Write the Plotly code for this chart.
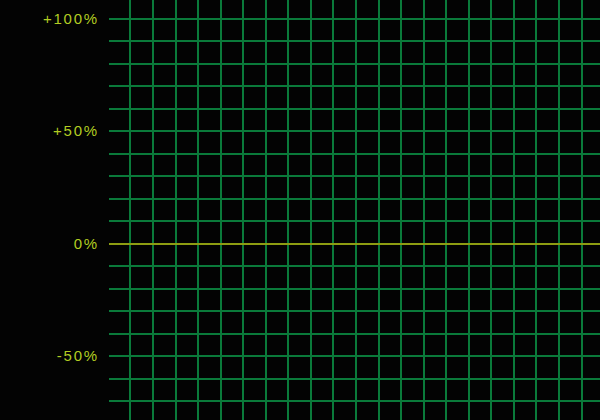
import plotly.graph_objects as go

# Data (chart is an empty grid: no series values visible)
x_values = []
y_values = []
y_tick_values = [-50, 0, 50, 100]
y_tick_labels = ["-50%", "0%", "+50%", "+100%"]

BG = "#030303"
GRID = "#0a7a3a"
TEXT = "#b2cc22"
ZERO = "#8d9d12"

spaced_labels = ['<span style="letter-spacing:1.8px">%s</span>' % t for t in y_tick_labels]

fig = go.Figure()
fig.add_trace(go.Scatter(x=x_values, y=y_values, mode="lines", showlegend=False))

fig.update_layout(
    width=600, height=420,
    margin=dict(l=109, r=0, t=0, b=0),
    paper_bgcolor=BG, plot_bgcolor=BG,
    showlegend=False,
    font=dict(family="Liberation Sans", size=15, color=TEXT),
)
fig.update_xaxes(
    range=[-0.953, 20.82], dtick=1, tick0=0,
    showgrid=True, gridcolor=GRID, gridwidth=1.8,
    showticklabels=False, zeroline=False, showline=False, ticks="",
)
fig.update_yaxes(
    range=[-78.4, 108.3],
    tickmode="array", tickvals=y_tick_values, ticktext=spaced_labels,
    showgrid=True, gridcolor=GRID, gridwidth=1.8,
    minor=dict(dtick=10, tick0=0, showgrid=True, gridcolor=GRID, gridwidth=1.8),
    zeroline=True, zerolinecolor=ZERO, zerolinewidth=1.8,
    showline=False, ticks="", ticklabelstandoff=9,
    tickfont=dict(family="Liberation Sans", size=15, color=TEXT),
)

fig.write_html("out.html")
